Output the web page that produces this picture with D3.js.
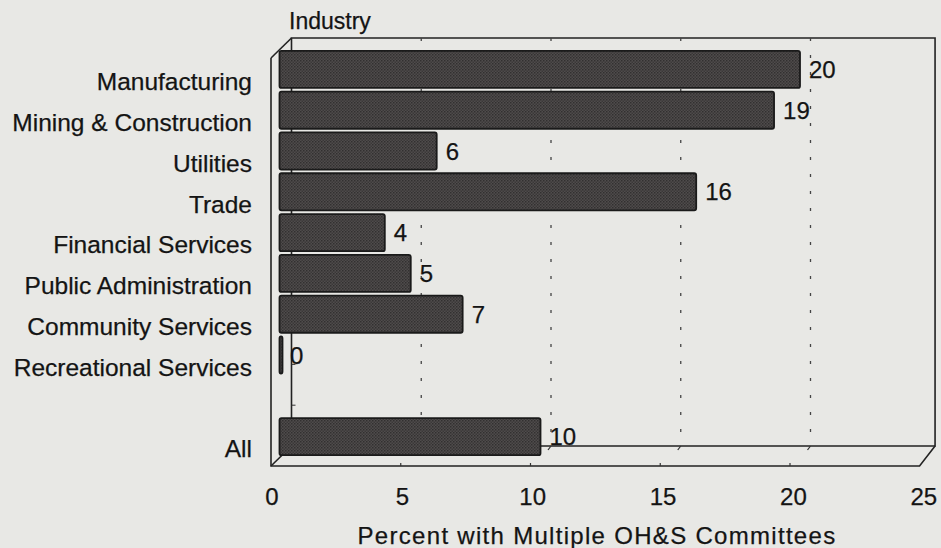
<!DOCTYPE html>
<html>
<head>
<meta charset="utf-8">
<script src="https://cdn.jsdelivr.net/npm/d3@7/dist/d3.min.js"></script>
<style>
  html, body { margin: 0; padding: 0; background: #e8e8e5; }
  svg { display: block; }
  text { font-family: "Liberation Sans", Arial, Helvetica, sans-serif; fill: #141414; stroke: #141414; stroke-width: 0.25; }
</style>
</head>
<body>
<svg id="chart" width="941" height="548"></svg>
<script>
const categories = ["Manufacturing", "Mining & Construction", "Utilities", "Trade",
  "Financial Services", "Public Administration", "Community Services",
  "Recreational Services", "", "All"];
const values = [20, 19, 6, 16, 4, 5, 7, 0, null, 10];
const xTicks = [0, 5, 10, 15, 20, 25];
const gridTicks = [5, 10, 15, 20];
const yTitle = "Industry";
const xTitle = "Percent with Multiple OH&S Committees";

const svg = d3.select("#chart");
const W = 941, H = 548;
svg.append("rect").attr("width", W).attr("height", H).attr("fill", "#e8e8e5");

// middle (bar) plane
const x = d3.scaleLinear().domain([0, 25]).range([281, 281 + 25 * 25.95]);
const y = d3.scaleBand().domain(categories.map((c, i) => i)).range([48, 456]).paddingInner(0.09).paddingOuter(0.045);
const dxB = 10.5, dyB = -10;   // back plane offset
const dxF = -10, dyF = 10;     // front plane offset
const xEdge = 24.8;

const frame = svg.append("g").attr("stroke", "#222").attr("fill", "none").attr("stroke-width", 1.6);
const yTop = 48, yBot = 456;
const bx0 = x(0) + dxB, bxR = x(xEdge) + dxB, byT = yTop + dyB, byB = yBot + dyB;
const fx0 = x(0) + dxF, fxR = x(xEdge) + dxF + 5, fyT = yTop + dyF, fyB = yBot + dyF;

// dotted gridlines on back plane
svg.append("g").selectAll("line").data(gridTicks).join("line")
  .attr("x1", d => x(d) + dxB).attr("x2", d => x(d) + dxB)
  .attr("y1", byT).attr("y2", byB)
  .attr("stroke", "#444").attr("stroke-width", 1.3).attr("stroke-dasharray", "3,14");

// back plane
frame.append("path").attr("d", `M${bx0},${byB}V${byT}H${bxR}V${byB}H${bx0}`);
// floor & left wall
frame.append("path").attr("d", `M${fx0},${fyT}L${bx0},${byT}`);
frame.append("path").attr("d", `M${fx0},${fyT}V${fyB}H${fxR}L${bxR},${byB}`);
frame.append("path").attr("d", `M${fx0},${fyB}L${bx0},${byB}`);

// small ticks on back left wall at band boundaries
svg.append("g").selectAll("line").data(categories.slice(1).map((c, i) => i + 1)).join("line")
  .attr("x1", bx0).attr("x2", bx0 + 4)
  .attr("y1", d => y(d) - y.step() * y.paddingInner() / 2 + dyB)
  .attr("y2", d => y(d) - y.step() * y.paddingInner() / 2 + dyB)
  .attr("stroke", "#333").attr("stroke-width", 1);

// floor ticks
svg.append("g").selectAll("line").data(gridTicks).join("line")
  .attr("x1", d => x(d) + dxF).attr("x2", d => x(d) + dxF)
  .attr("y1", fyB).attr("y2", fyB - 3)
  .attr("stroke", "#333").attr("stroke-width", 1.2);
svg.append("g").selectAll("line").data(gridTicks).join("line")
  .attr("x1", d => x(d) + dxB).attr("x2", d => x(d) + dxB - 3)
  .attr("y1", byB).attr("y2", byB + 4)
  .attr("stroke", "#333").attr("stroke-width", 1.2);

// texture pattern
const defs = svg.append("defs");
const pat = defs.append("pattern").attr("id", "tex").attr("width", 3).attr("height", 3)
  .attr("patternUnits", "userSpaceOnUse");
pat.append("rect").attr("width", 3).attr("height", 3).attr("fill", "#4f4c4c");
pat.append("rect").attr("width", 1.5).attr("height", 1.5).attr("fill", "#323030");
pat.append("rect").attr("x", 1.5).attr("y", 1.5).attr("width", 1.5).attr("height", 1.5).attr("fill", "#3b3838");

const data = categories.map((c, i) => ({ c, i, v: values[i] })).filter(d => d.v !== null);

// bars
svg.append("g").selectAll("rect").data(data).join("rect")
  .attr("x", d => x(0) - 1.5)
  .attr("y", d => y(d.i) + 1)
  .attr("width", d => Math.max(3, x(d.v) - x(0) + 1.5))
  .attr("height", y.bandwidth())
  .attr("rx", 2)
  .attr("fill", "url(#tex)")
  .attr("stroke", "#1a1a1a").attr("stroke-width", 1.8);

// value labels
svg.append("g").selectAll("text").data(data).join("text")
  .attr("x", d => x(d.v) + 9)
  .attr("y", d => y(d.i) + y.bandwidth() / 2 + 1)
  .attr("dy", "0.36em")
  .attr("font-size", 24)
  .text(d => d.v);

// category labels (front plane)
svg.append("g").selectAll("text").data(data).join("text")
  .attr("x", 252)
  .attr("y", d => y(d.i) + y.bandwidth() / 2 + 13)
  .attr("dy", "0.36em")
  .attr("text-anchor", "end")
  .attr("font-size", 24.5)
  .text(d => d.c);

// x tick labels
svg.append("g").selectAll("text").data(xTicks).join("text")
  .attr("x", d => x(d) + dxF + 1 + d * 0.12)
  .attr("y", 505)
  .attr("text-anchor", "middle")
  .attr("font-size", 24)
  .text(d => d);

// titles
svg.append("text").attr("x", 289).attr("y", 29).attr("font-size", 23).text(yTitle);
svg.append("text").attr("x", 597).attr("y", 544).attr("text-anchor", "middle")
  .attr("font-size", 24).attr("letter-spacing", 1.3).text(xTitle);
</script>
</body>
</html>
